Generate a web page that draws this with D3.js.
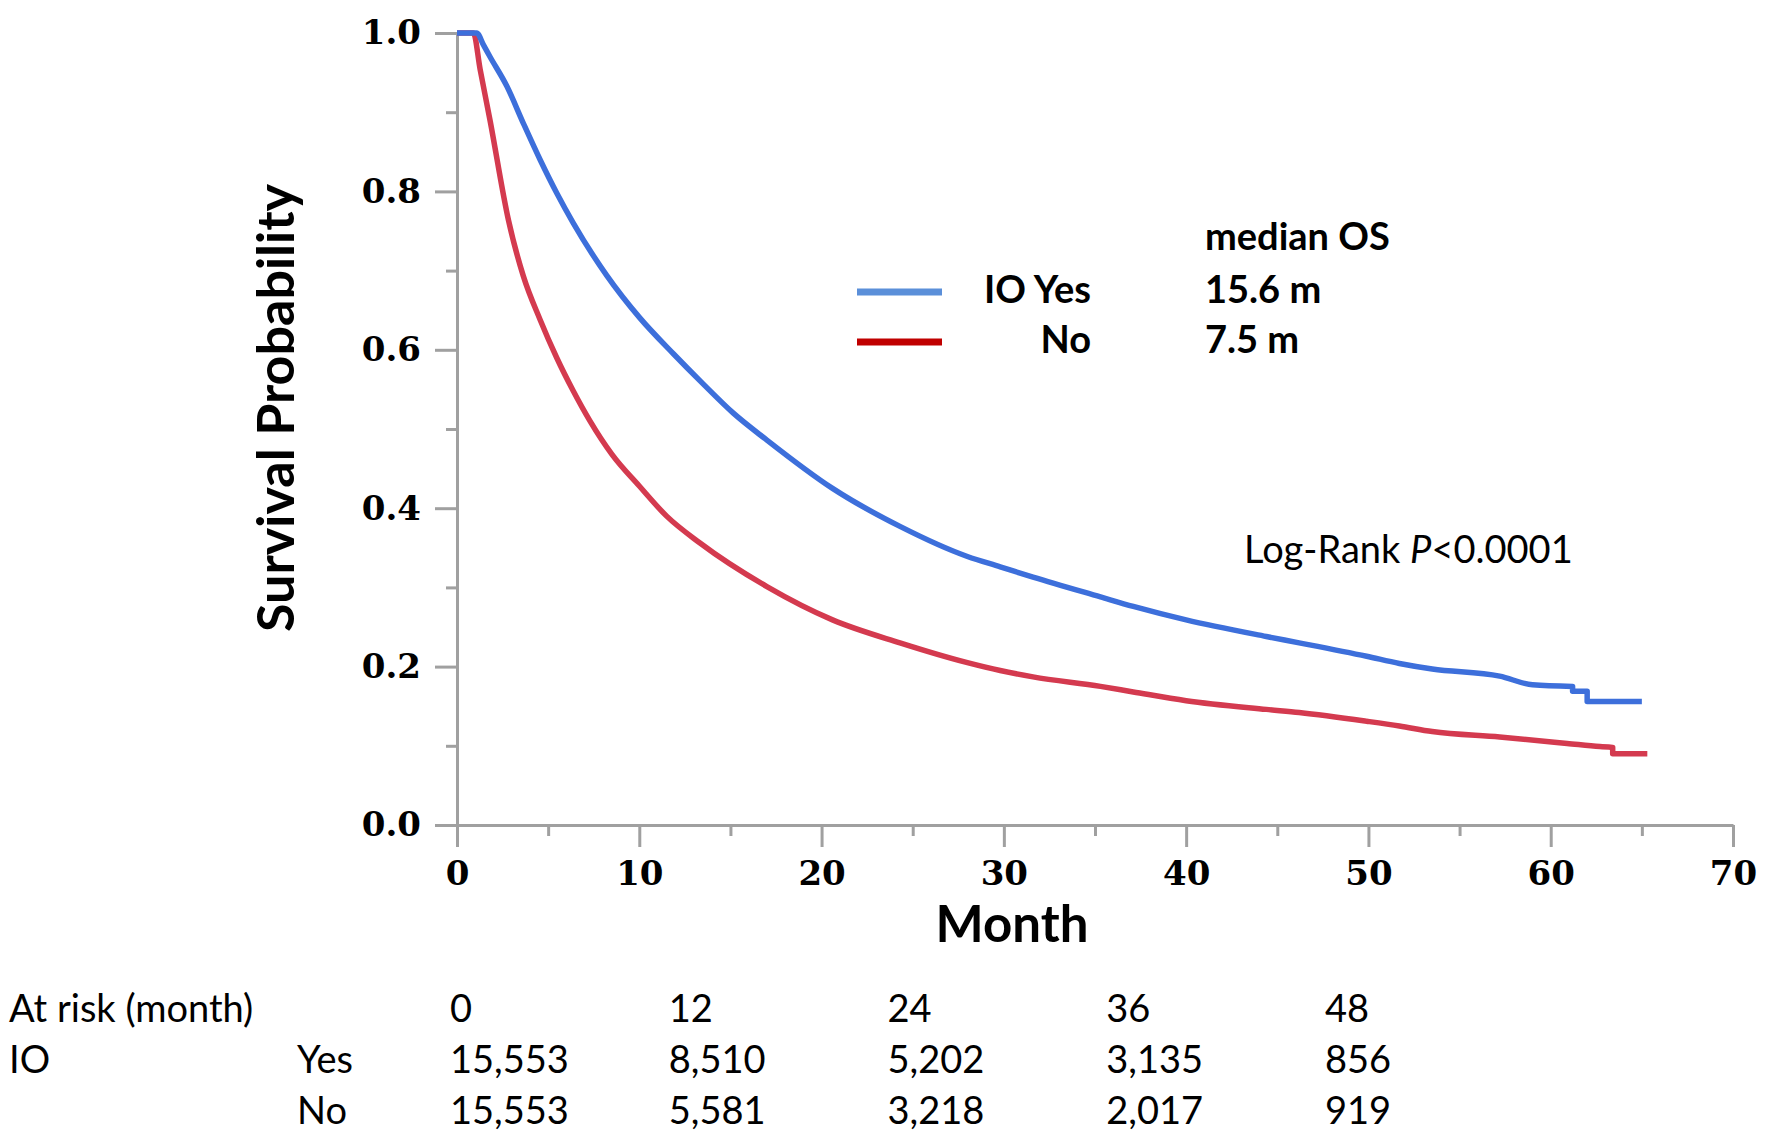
<!DOCTYPE html>
<html>
<head>
<meta charset="utf-8">
<script src="https://cdn.jsdelivr.net/npm/d3@7"></script>
<style>
  body { margin: 0; background: #fff; }
  svg { display: block; }
</style>
</head>
<body>
<svg id="chart" width="1772" height="1141"></svg>
<script>
// curvas Kaplan-Meier (mes, supervivencia)
const ioYesMonths = [0, 1.08, 1.45, 1.81, 2.73, 3.64, 4.56, 5.47, 6.38, 8.21, 10.04, 11.87, 13.5, 15.16, 17.0, 20.6, 24.3, 28.0, 29.8, 31.6, 35.3, 37.1, 40.0, 44.4, 46.2, 49.9, 51.7, 53.5, 57.2, 59.0, 61.2, 61.2, 62.0, 62.0, 65.0];
const ioYesSurv   = [1.0, 1.0, 0.985, 0.970, 0.933, 0.886, 0.840, 0.798, 0.760, 0.694, 0.640, 0.595, 0.557, 0.520, 0.486, 0.425, 0.377, 0.339, 0.326, 0.313, 0.288, 0.276, 0.259, 0.238, 0.230, 0.213, 0.204, 0.197, 0.188, 0.177, 0.175, 0.169, 0.169, 0.156, 0.156];

const ioNoMonths = [0, 0.9, 1.27, 1.81, 2.82, 3.64, 4.56, 5.47, 6.38, 7.3, 8.5, 10.0, 11.5, 13.33, 17.0, 20.6, 24.3, 28.0, 29.8, 31.6, 35.3, 37.1, 40.0, 44.4, 46.2, 49.9, 51.7, 53.5, 57.2, 60.9, 62.7, 63.4, 63.4, 65.3];
const ioNoSurv   = [1.0, 1.0, 0.954, 0.890, 0.764, 0.693, 0.638, 0.590, 0.548, 0.510, 0.468, 0.428, 0.390, 0.356, 0.301, 0.259, 0.230, 0.205, 0.195, 0.187, 0.175, 0.168, 0.157, 0.146, 0.142, 0.131, 0.125, 0.118, 0.111, 0.103, 0.099, 0.098, 0.090, 0.090];

const xTicks = [0, 10, 20, 30, 40, 50, 60, 70];
const xMinor = [5, 15, 25, 35, 45, 55, 65];
const yTicks = [0, 0.2, 0.4, 0.6, 0.8, 1.0];
const yMinor = [0.1, 0.3, 0.5, 0.7, 0.9];

const legendLabels = ["IO Yes", "No"];
const medianOS = ["15.6 m", "7.5 m"];

// tabla de pacientes en riesgo
const riskMonths = [0, 12, 24, 36, 48];
const riskYes = ["15,553", "8,510", "5,202", "3,135", "856"];
const riskNo  = ["15,553", "5,581", "3,218", "2,017", "919"];

const curveColors = ["#3d6fdb", "#d43a4f"];
const legendColors = ["#5b8fd9", "#c00000"];
const axisGray = "#a0a0a0";

const svg = d3.select("#chart");

const x = d3.scaleLinear().domain([0, 70]).range([457, 1733]);
const y = d3.scaleLinear().domain([0, 1]).range([825, 33]);

function styleAxis(g) {
    g.select(".domain").attr("stroke", axisGray).attr("stroke-width", 3);
    g.selectAll(".tick line").attr("stroke", axisGray).attr("stroke-width", 3);
    g.selectAll(".tick text")
        .attr("fill", "#000")
        .style("font-family", "'DejaVu Serif', serif")
        .style("font-weight", "bold")
        .style("font-size", "34px");
}

// ejes principales
svg.append("g")
    .attr("transform", "translate(0,825)")
    .call(d3.axisBottom(x).tickValues(xTicks).tickSize(22).tickSizeOuter(0).tickPadding(14).tickFormat(d3.format("d")))
    .call(styleAxis);

svg.append("g")
    .attr("transform", "translate(0,825)")
    .call(d3.axisBottom(x).tickValues(xMinor).tickSize(11).tickFormat(""))
    .call(g => g.select(".domain").remove())
    .call(styleAxis);

svg.append("g")
    .attr("transform", "translate(457,0)")
    .call(d3.axisLeft(y).tickValues(yTicks).tickSize(22).tickSizeOuter(0).tickPadding(14).tickFormat(d3.format(".1f")))
    .call(styleAxis);

svg.append("g")
    .attr("transform", "translate(457,0)")
    .call(d3.axisLeft(y).tickValues(yMinor).tickSize(11).tickFormat(""))
    .call(g => g.select(".domain").remove())
    .call(styleAxis);

// títulos de ejes
svg.append("text")
    .attr("transform", "translate(294,408) rotate(-90)")
    .attr("text-anchor", "middle")
    .style("font-family", "Lato, sans-serif")
    .style("font-weight", "bold")
    .style("font-size", "52px")
    .text("Survival Probability");

svg.append("text")
    .attr("x", 1012)
    .attr("y", 942)
    .attr("text-anchor", "middle")
    .style("font-family", "Lato, sans-serif")
    .style("font-weight", "bold")
    .style("font-size", "51px")
    .text("Month");

// curvas: parte suave + escalones finales
const smooth = d3.line().x(d => x(d[0])).y(d => y(d[1])).curve(d3.curveMonotoneX);
const steps = d3.line().x(d => x(d[0])).y(d => y(d[1]));

function curvePath(pts) {
    let cut = pts.findIndex((p, i) => i > 0 && p[0] === pts[i - 1][0]);
    if (cut < 0) return smooth(pts);
    cut = cut - 1;
    return smooth(pts.slice(0, cut + 1)) + steps(pts.slice(cut)).replace(/^M/, "L");
}

const series = [
    { pts: d3.zip(ioNoMonths, ioNoSurv), color: curveColors[1] },
    { pts: d3.zip(ioYesMonths, ioYesSurv), color: curveColors[0] }
];

svg.append("g")
    .selectAll("path")
    .data(series)
    .join("path")
    .attr("d", d => curvePath(d.pts))
    .attr("fill", "none")
    .attr("stroke", d => d.color)
    .attr("stroke-width", 5.5)
    .attr("stroke-linejoin", "round");

// leyenda
const legend = svg.append("g").style("font-family", "Lato, sans-serif").style("font-weight", "bold").style("font-size", "38px");

legend.append("text").attr("x", 1205).attr("y", 250).text("median OS");

const legendY = [292, 342];
legendLabels.forEach((lab, i) => {
    legend.append("line")
        .attr("x1", 857).attr("x2", 942)
        .attr("y1", legendY[i]).attr("y2", legendY[i])
        .attr("stroke", legendColors[i])
        .attr("stroke-width", 7);
    legend.append("text")
        .attr("x", 1091).attr("y", legendY[i])
        .attr("dy", "0.3em")
        .attr("text-anchor", "end")
        .text(lab);
    legend.append("text")
        .attr("x", 1205).attr("y", legendY[i])
        .attr("dy", "0.3em")
        .text(medianOS[i]);
});

// log-rank
const lr = svg.append("text")
    .attr("x", 1244).attr("y", 563)
    .style("font-family", "Lato, sans-serif")
    .style("font-size", "38px");
lr.append("tspan").text("Log-Rank ");
lr.append("tspan").style("font-style", "italic").text("P");
lr.append("tspan").text("<0.0001");

// tabla en riesgo
const table = svg.append("g").style("font-family", "Lato, sans-serif").style("font-size", "38px");
const rowY = [1022, 1073, 1124];

table.append("text").attr("x", 9).attr("y", rowY[0]).text("At risk (month)");
table.append("text").attr("x", 9).attr("y", rowY[1]).text("IO");
table.append("text").attr("x", 297).attr("y", rowY[1]).text("Yes");
table.append("text").attr("x", 297).attr("y", rowY[2]).text("No");

riskMonths.forEach((m, i) => {
    const tx = x(m) - 7;
    table.append("text").attr("x", tx).attr("y", rowY[0]).text(m);
    table.append("text").attr("x", tx).attr("y", rowY[1]).text(riskYes[i]);
    table.append("text").attr("x", tx).attr("y", rowY[2]).text(riskNo[i]);
});
</script>
</body>
</html>
